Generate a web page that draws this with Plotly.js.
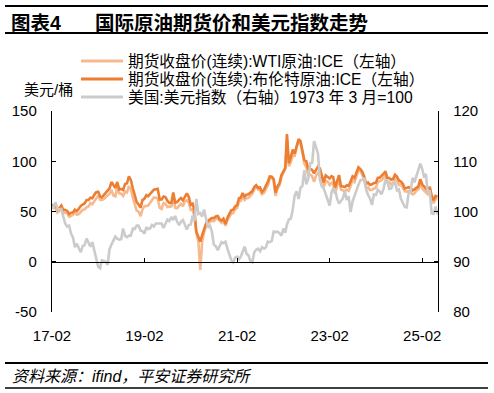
<!DOCTYPE html>
<html>
<head>
<meta charset="utf-8">
<script src="https://cdn.plot.ly/plotly-3.0.1.min.js"></script>
<style>html,body{margin:0;padding:0;background:#fff;}</style>
</head>
<body>
<div id="chart" style="width:494px;height:393px;"></div>
<script>
// Sampling dates: 1st and 16th of each month, 2017-02 .. 2025-05, plus 2025-06-01
const dates = [];
for (let y = 2017; y <= 2025; y++) {
  for (let m = 1; m <= 12; m++) {
    if (y === 2017 && m < 2) continue;
    if (y === 2025 && m > 5) continue;
    const mm = String(m).padStart(2, '0');
    dates.push(y + '-' + mm + '-01', y + '-' + mm + '-16');
  }
}
dates.push('2025-06-01');

// 期货收盘价(连续):WTI原油:ICE (USD/bbl)
const wti = [
  53.9,53.4, 54.0,48.9, 50.6,52.9, 49.0,48.7, 48.3,44.7, 46.0,46.5, 49.2,46.8, 47.3,50.0, 51.7,51.9, 54.3,55.1, 58.4,57.3,
  60.4,63.7, 65.8,61.7, 61.6,62.3, 64.9,66.2, 67.3,71.5, 65.8,65.0, 74.2,68.1, 67.7,65.5, 69.8,68.9, 75.3,71.9, 63.7,56.5, 50.9,49.9,
  45.4,52.3, 55.3,55.6, 55.8,58.5, 61.6,64.0, 63.6,62.9, 53.5,52.5, 58.5,57.6, 54.4,54.9, 55.1,62.9, 53.6,53.4, 56.2,57.7, 55.2,60.2,
  61.1,58.5, 51.6,52.1, 45.0,28.7, 20.3,-8.0, 19.8,29.4, 35.4,38.4, 39.8,40.8, 40.3,42.9, 42.8,40.2, 38.7,40.9, 35.8,41.3, 45.3,47.8,
  48.5,52.4, 53.5,60.0, 60.6,64.8, 61.4,63.1, 63.6,65.4, 67.7,72.2, 75.2,71.8, 71.3,67.3, 68.6,72.6, 75.9,82.3, 84.1,80.8, 65.6,72.4,
  76.1,84.0, 88.2,92.5, 123.0,95.0, 99.3,106.9, 104.7,114.2, 119.0,117.6, 108.4,97.6, 93.9,86.5, 86.6,85.1, 79.5,85.6, 88.4,85.6, 81.2,74.3,
  80.3,79.9, 76.4,78.5, 77.7,67.6, 75.7,82.5, 71.7,70.9, 70.1,71.8, 70.6,75.4, 81.4,79.4, 85.6,91.0, 90.8,86.7, 80.4,72.9, 74.1,71.4,
  71.7,72.4, 73.8,79.2, 79.9,81.0, 83.7,85.4, 79.0,79.2, 77.0,78.5, 83.4,80.8, 76.3,76.7, 73.6,70.1, 69.8,70.4, 69.3,67.0, 68.0,70.7,
  72.0,78.7, 72.5,70.7, 69.8,67.2, 71.2,62.5, 58.2,62.5, 62.5
];

// 期货收盘价(连续):布伦特原油:ICE (USD/bbl)
const brent = [
  56.8,55.7, 56.4,51.8, 53.5,55.9, 51.5,51.7, 50.6,47.4, 48.8,48.9, 51.8,50.3, 52.8,55.6, 56.8,58.0, 61.4,61.4, 63.7,63.2,
  66.6,69.2, 69.6,64.8, 64.0,66.2, 69.3,71.4, 73.1,79.3, 76.8,73.4, 79.4,72.0, 72.4,71.4, 77.4,78.1, 85.0,81.4, 72.9,66.8, 59.5,57.0,
  53.8,61.3, 62.8,66.3, 65.1,67.2, 69.0,71.7, 72.2,72.6, 61.9,62.0, 64.9,64.4, 60.5,58.6, 58.7,69.0, 58.9,59.4, 61.7,63.3, 61.1,65.3,
  68.0,64.6, 56.6,57.7, 50.5,30.0, 24.7,20.0, 26.4,32.5, 38.3,40.7, 42.0,43.4, 43.5,45.0, 45.6,42.2, 40.9,42.9, 37.5,43.8, 47.4,51.1,
  51.8,55.1, 56.4,63.4, 63.7,68.4, 64.7,66.8, 67.2,68.7, 70.3,74.4, 76.2,73.6, 73.9,69.5, 71.6,75.7, 79.3,84.9, 84.7,82.4, 68.9,75.0,
  78.0,86.1, 89.2,93.3, 127.0,98.0, 104.4,111.7, 107.6,114.2, 122.0,120.0, 111.6,101.2, 100.0,92.3, 92.4,91.4, 88.0,91.6, 94.7,92.9, 87.0,79.0,
  85.9,84.5, 82.8,85.1, 84.3,73.7, 80.0,86.3, 75.3,75.0, 74.3,76.1, 75.4,79.9, 85.0,83.4, 88.6,94.0, 92.2,89.6, 84.6,77.4, 78.9,76.6,
  77.0,78.3, 78.7,83.5, 83.6,85.3, 87.4,90.0, 83.4,83.3, 81.6,82.6, 86.6,84.9, 80.7,79.7, 77.5,72.8, 73.6,74.3, 73.1,71.0, 72.0,73.9,
  75.0,82.0, 76.8,74.7, 73.2,70.6, 74.5,65.9, 61.1,65.4, 64.6
];

// 美国:美元指数 (1973年3月=100)
const dxy = [
  100.5,101.2, 101.8,100.4, 100.4,100.5, 99.0,97.6, 97.0,97.2, 95.6,94.9, 92.9,93.6, 92.7,91.9, 93.1,93.3, 94.6,93.8, 93.0,93.9,
  92.1,90.5, 89.0,88.7, 90.3,90.2, 90.0,89.4, 92.5,93.4, 94.2,95.0, 94.6,94.4, 94.5,96.6, 95.1,94.9, 95.2,95.2, 96.6,96.5, 97.2,97.2,
  96.2,96.1, 95.6,96.9, 96.5,96.6, 97.3,97.0, 97.6,97.6, 97.7,97.6, 96.7,97.4, 98.4,98.1, 98.9,98.3, 99.1,98.0, 97.3,98.0, 98.3,97.4,
  96.4,97.3, 97.4,99.2, 98.1,102.5, 99.5,99.7, 99.0,100.4, 98.3,96.8, 97.2,96.1, 93.4,93.1, 92.3,93.0, 93.9,93.7, 94.0,92.6, 91.3,90.4,
  89.9,90.8, 91.0,90.5, 91.0,91.9, 93.0,91.6, 91.3,90.2, 89.9,91.9, 92.4,92.6, 92.1,92.9, 92.6,92.9, 94.0,93.9, 94.1,96.0, 95.9,96.0,
  95.7,95.2, 96.6,95.8, 97.4,98.4, 98.6,100.4, 103.2,104.0, 102.5,104.7, 105.1,108.2, 105.4,106.5, 109.6,109.7, 114.0,112.8, 111.5,106.3, 105.0,104.6,
  103.5,102.2, 101.2,103.8, 104.6,104.4, 102.5,101.6, 102.0,102.6, 104.0,102.3, 103.0,99.9, 102.0,103.2, 104.0,105.3, 106.2,106.3, 106.7,104.4, 103.3,102.6,
  101.3,103.4, 103.3,104.3, 104.0,103.4, 104.5,106.2, 106.2,104.5, 104.6,105.5, 105.9,104.2, 104.4,102.5, 101.7,100.9, 100.8,103.6, 103.9,106.7, 105.8,106.9,
  108.5,109.5, 108.4,106.7, 107.5,103.7, 104.2,99.6, 99.5,101.0, 99.4
];

const tickVals = ['2017-02-01', '2019-02-01', '2021-02-01', '2023-02-01', '2025-02-01'];
const tickText = ['17-02', '19-02', '21-02', '23-02', '25-02'];
const leftTicks = [-50, 0, 50, 100, 150];
const leftTickText = ['-50', '0', '50', '100', '150'];
const rightTicks = [80, 90, 100, 110, 120];
const names = ['期货收盘价(连续):WTI原油:ICE（左轴）', '期货收盘价(连续):布伦特原油:ICE（左轴）', '美国:美元指数（右轴）1973 年 3 月=100'];
const colors = ['#F7B98E', '#ED7D31', '#CBCBCB'];

const FONT = "'Liberation Sans', 'Noto Sans CJK SC', Arial, sans-serif";
const XR = ['2017-02-01', '2025-06-05'];

// pixel helpers (plot area: x 52..438, y 111..312)
const px = v => (v - 52) / 386;
const py = v => (312 - v) / 201;

const traces = [
  {x: dates, y: wti, name: names[0], type: 'scatter', mode: 'lines', xaxis: 'x', yaxis: 'y',
   line: {color: colors[0], width: 2.6}},
  {x: dates, y: brent, name: names[1], type: 'scatter', mode: 'lines', xaxis: 'x', yaxis: 'y',
   line: {color: colors[1], width: 2.6}},
  {x: dates, y: dxy, name: names[2], type: 'scatter', mode: 'lines', xaxis: 'x2', yaxis: 'y2',
   line: {color: colors[2], width: 2.6}}
];

const lineShape = (y, w) => ({type: 'line', xref: 'paper', yref: 'paper', x0: px(5), x1: px(488), y0: py(y), y1: py(y),
  line: {color: '#000', width: w}});

// legend (drawn as samples + labels)
const legendY = [61, 79, 97];
const legendShapes = names.map((n, i) => ({type: 'line', xref: 'paper', yref: 'paper',
  x0: px(81), x1: px(123), y0: py(legendY[i]), y1: py(legendY[i]), line: {color: colors[i], width: 3}}));
const legendLabels = names.map((n, i) => ({text: n, xref: 'paper', yref: 'paper', x: px(126), y: py(legendY[i]),
  xanchor: 'left', yanchor: 'middle', showarrow: false, font: {family: FONT, size: 15.7, color: '#000'}}));

const layout = {
  width: 494, height: 393,
  margin: {l: 52, r: 56, t: 111, b: 81, pad: 0, autoexpand: false},
  paper_bgcolor: '#ffffff', plot_bgcolor: 'rgba(0,0,0,0)',
  font: {family: FONT, size: 15, color: '#000'},
  showlegend: false,
  xaxis: {type: 'date', range: XR, tickvals: tickVals, ticktext: tickText, ticks: '', showline: false,
    showgrid: false, zeroline: false, ticklabelstandoff: 13, tickfont: {family: FONT, size: 15}},
  xaxis2: {type: 'date', range: XR, overlaying: 'x', anchor: 'free', position: 0.25, tickvals: tickVals,
    showticklabels: false, ticks: 'inside', ticklen: 4, tickwidth: 1, tickcolor: '#000',
    showline: true, linecolor: '#000', linewidth: 1.2, showgrid: false, zeroline: false},
  yaxis: {range: [-50, 150], tickvals: leftTicks, ticktext: leftTickText, ticks: 'inside', ticklen: 4, tickcolor: '#000', tickwidth: 1,
    showline: true, linecolor: '#000', linewidth: 1.2, showgrid: false, zeroline: false, ticklabelstandoff: 11,
    tickfont: {family: FONT, size: 15}},
  yaxis2: {range: [80, 120], tickvals: rightTicks, overlaying: 'y', side: 'right', anchor: 'x2',
    ticks: 'inside', ticklen: 4, tickcolor: '#000', tickwidth: 1, ticklabelstandoff: 11,
    showline: true, linecolor: '#000', linewidth: 1.2, showgrid: false, zeroline: false,
    tickfont: {family: FONT, size: 15}},
  shapes: [lineShape(6, 2), lineShape(33, 2), lineShape(363, 2), lineShape(388, 1.5)].concat(legendShapes),
  annotations: [
    {text: '<b>图表4</b>', xref: 'paper', yref: 'paper', x: px(9), y: py(23), xanchor: 'left', yanchor: 'middle',
     showarrow: false, font: {family: FONT, size: 19.5, color: '#000'}},
    {text: '<b>国际原油期货价和美元指数走势</b>', xref: 'paper', yref: 'paper', x: px(93), y: py(23), xanchor: 'left', yanchor: 'middle',
     showarrow: false, font: {family: FONT, size: 19.5, color: '#000'}},
    {text: '美元/桶', xref: 'paper', yref: 'paper', x: px(22), y: py(90), xanchor: 'left', yanchor: 'middle',
     showarrow: false, font: {family: FONT, size: 15, color: '#000'}},
    {text: '<i>资料来源：ifind，平安证券研究所</i>', xref: 'paper', yref: 'paper', x: px(10), y: py(376), xanchor: 'left', yanchor: 'middle',
     showarrow: false, font: {family: FONT, size: 16, color: '#000'}}
  ].concat(legendLabels)
};

Plotly.newPlot('chart', traces, layout, {staticPlot: true, displayModeBar: false});
</script>
</body>
</html>
